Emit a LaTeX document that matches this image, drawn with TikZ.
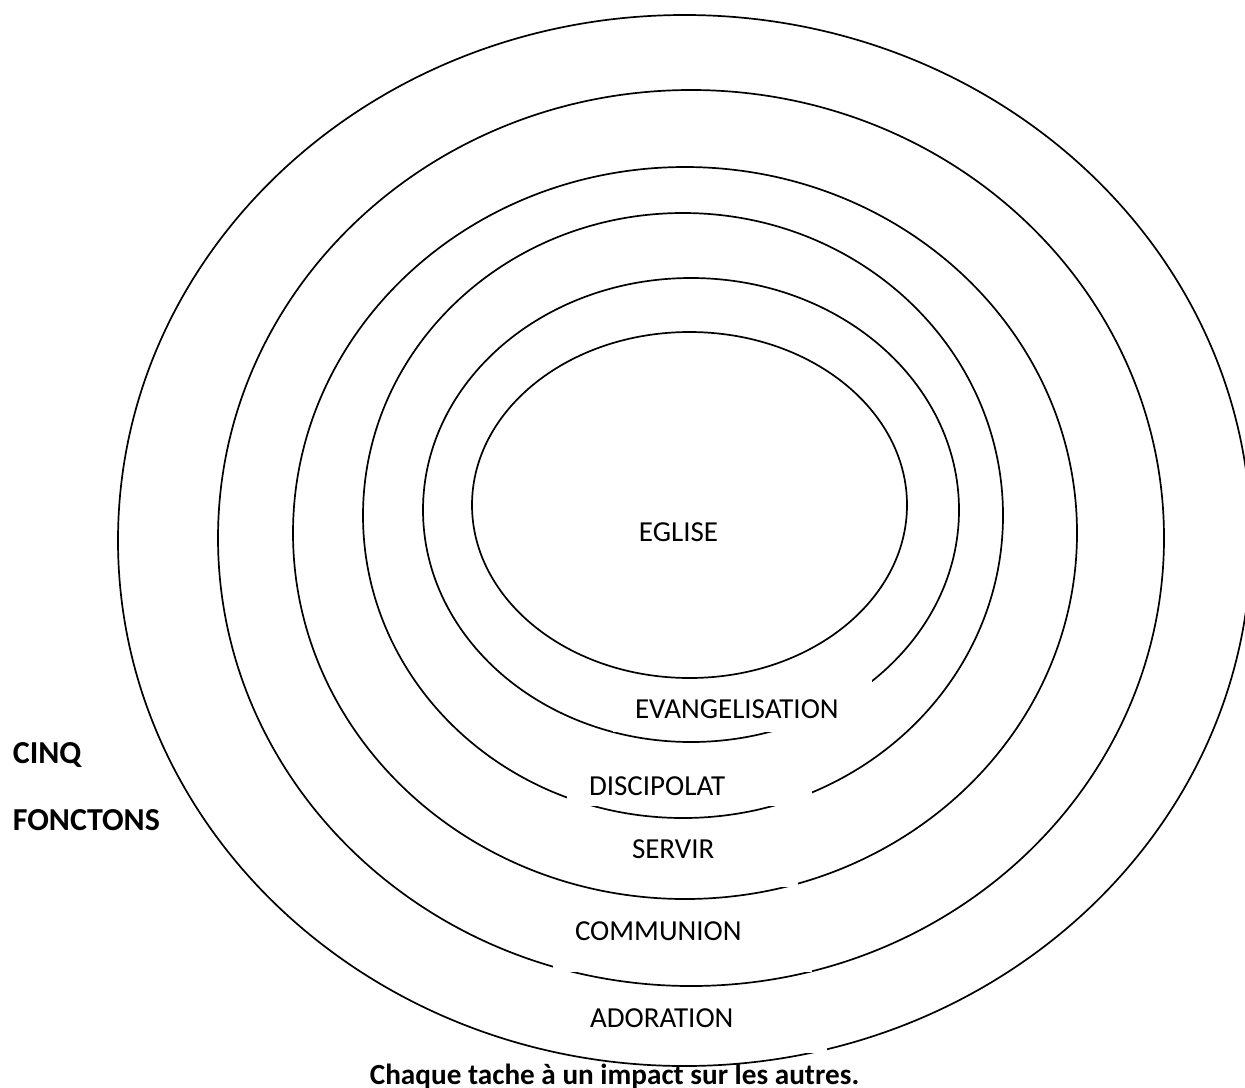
\documentclass[tikz,border=0pt]{standalone}
\usepackage{fontspec}
\setmainfont{Carlito}
\begin{document}
\begin{tikzpicture} [
   x=0.5pt, y=-0.5pt, line width=0.85pt,
   t/.style={fill=white, inner xsep=11pt, inner ysep=0pt, outer sep=0pt,
      align=left, anchor=base west, font=\fontsize{14.5}{17}\selectfont},
   b/.style={inner sep=0pt, anchor=base west, font=\bfseries\fontsize{16}{19}\selectfont}
]
   \useasboundingbox (0,0) rectangle (1245,1087);
   % six rings, outer to inner
   \draw (684.5,540.5) ellipse (566.5 and 525.5);
   \draw (691,538) ellipse (473 and 448);
   \draw (685,533) ellipse (392 and 366);
   \draw (683,515.5) ellipse (320 and 302.5);
   \draw (691,510) ellipse (268 and 232);
   \draw (689.5,505) ellipse (217.5 and 173);
   % white label boxes cut the rings
   \node (evang) [t, text width=107.5pt, text height=19pt, text depth=7pt] at (613,718) {EVANGELISATION};
   \node (disc) [t, text width=100.5pt, text height=21.5pt, text depth=5.5pt] at (567,795) {DISCIPOLAT};
   \node (serv) [t, text width=72pt, text height=16.5pt, text depth=14.5pt] at (610,858) {SERVIR};
   \node (comm) [t, text width=107.5pt, text height=17.5pt, text depth=16pt] at (553,940) {COMMUNION};
   \node (ador) [t, text width=107.5pt, text height=17pt, text depth=13pt] at (568,1027) {ADORATION};
   \node (eglise) [anchor=base, inner sep=0pt, font=\fontsize{14.5}{17}\selectfont] at (678.5,541) {EGLISE};
   \node (cinq) [b] at (12,763) {CINQ};
   \node (fonc) [b] at (12,830) {FONCTONS};
   \node (note) [b, font=\bfseries\fontsize{14.6}{17}\selectfont] at (369,1084) {Chaque tache à un impact sur les autres.};
\end{tikzpicture}
\end{document}
